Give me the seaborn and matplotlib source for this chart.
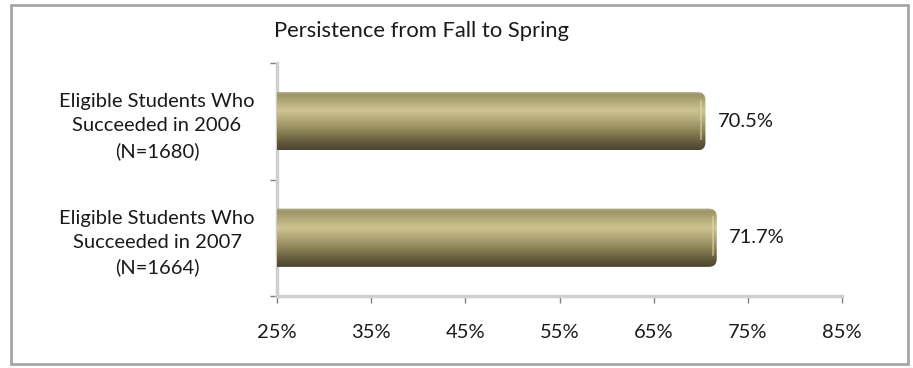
import numpy as np
import pandas as pd
import matplotlib
matplotlib.use("Agg")
import matplotlib.pyplot as plt
from matplotlib.patches import FancyBboxPatch, Rectangle
from matplotlib.colors import LinearSegmentedColormap
import seaborn as sns

# Data
categories = [
    "Eligible Students Who\nSucceeded in 2006\n(N=1680)",
    "Eligible Students Who\nSucceeded in 2007\n(N=1664)",
]
persistence = [70.5, 71.7]
x_ticks = [25, 35, 45, 55, 65, 75, 85]
title = "Persistence from Fall to Spring"

sns.set_theme(style="white")
plt.rcParams["font.family"] = ["Lato", "DejaVu Sans"]

df = pd.DataFrame({"group": categories, "pct": persistence})

fig = plt.figure(figsize=(9.13, 3.68), dpi=100)
W, H = 913, 368
ax = fig.add_axes([277 / W, (H - 296) / H, (842 - 277) / W, (296 - 63) / H])

sns.barplot(data=df, x="pct", y="group", orient="h", width=0.5,
            color="#a39b68", ax=ax, zorder=2)

ax.set_xlim(25, 85)
ax.set_ylim(1.5, -0.5)
ax.set_xticks(x_ticks)
ax.set_xticklabels([f"{t}%" for t in x_ticks])
ax.set_xlabel("")
ax.set_ylabel("")

# Cylinder-like shading for each bar
shade = LinearSegmentedColormap.from_list(
    "olive_tube",
    [(0.0, "#b3ae8c"), (0.06, "#9d9566"), (0.33, "#cfc592"),
     (0.62, "#998f61"), (0.9, "#5c5537"), (1.0, "#4b4530")])
grad = np.linspace(0, 1, 256).reshape(-1, 1)

px_x = (85 - 25) / (842 - 277)
px_y = 2.0 / (296 - 63)
rad_px = 8
for patch in list(ax.patches):
    x0 = patch.get_x()
    y0 = patch.get_y()
    w = patch.get_width()
    h = patch.get_height()
    patch.set_visible(False)
    rx = rad_px * px_x
    clip = FancyBboxPatch((x0 - 3 * rx, y0), w + 3 * rx, h,
                          boxstyle=f"round,pad=0,rounding_size={rx}",
                          mutation_aspect=px_y / px_x,
                          facecolor="none", edgecolor="none",
                          transform=ax.transData)
    ax.add_patch(clip)
    im = ax.imshow(grad, cmap=shade, aspect="auto",
                   extent=(x0, x0 + w, y0 + h, y0), zorder=3,
                   interpolation="bilinear")
    im.set_clip_path(clip)
    # soft highlight on the rounded cap
    ax.plot([x0 + w - 4 * px_x] * 2, [y0 + h * 0.15, y0 + h * 0.8],
            color="#e2dcb4", lw=1.5, alpha=0.5, zorder=4,
            solid_capstyle="round")
    ax.text(x0 + w + 12 * px_x, y0 + h / 2, f"{w:.1f}%",
            va="center", ha="left", fontsize=14.5, color="#1a1a1a")

ax.set_aspect("auto")
ax.set_xlim(25, 85)
ax.set_ylim(1.5, -0.5)

# Axis styling
for side in ["top", "right"]:
    ax.spines[side].set_visible(False)
for side in ["left", "bottom"]:
    ax.spines[side].set_color("#cfcfcf")
    ax.spines[side].set_linewidth(2.5)

ax.set_yticks([-0.5, 0.5, 1.5], minor=True)
ax.tick_params(axis="y", which="major", length=0, pad=16, labelsize=14.5,
               labelcolor="#1a1a1a")
ax.tick_params(axis="y", which="minor", length=5, width=1, color="#7f7f7f",
               direction="out", left=True)
ax.tick_params(axis="x", length=5, width=1, color="#7f7f7f",
               direction="out", bottom=True, pad=15, labelsize=14.5,
               labelcolor="#1a1a1a")
for lab in ax.get_yticklabels():
    lab.set_multialignment("center")
    lab.set_linespacing(1.5)

fig.text(421 / W, 1 - 31 / H, title, ha="center", va="center",
         fontsize=15.8, color="#1a1a1a")

# Chart frame
fig.patches.append(Rectangle((11 / W, 1 - 364 / H), (908 - 11) / W,
                             (364 - 5) / H, transform=fig.transFigure,
                             facecolor="none", edgecolor="#a6a6a6", lw=2))

fig.savefig("out.png", dpi=100)
